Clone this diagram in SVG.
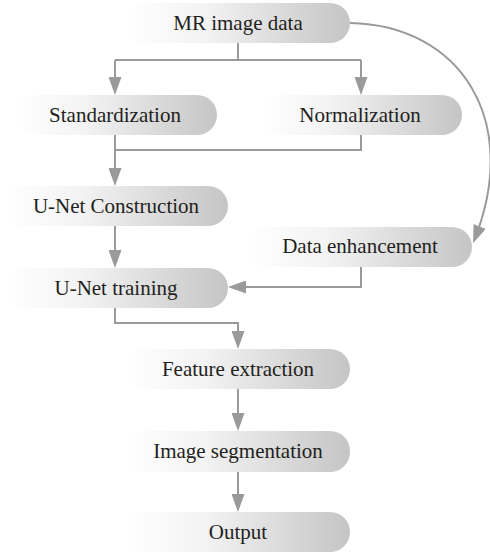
<svg xmlns="http://www.w3.org/2000/svg" width="490" height="552" viewBox="0 0 490 552">
  <defs>
    <linearGradient id="pill" x1="0" y1="0" x2="1" y2="0">
      <stop offset="0" stop-color="#ffffff"/>
      <stop offset="0.35" stop-color="#f3f3f3"/>
      <stop offset="1" stop-color="#c5c5c5"/>
    </linearGradient>
    <marker id="arrow" viewBox="0 0 18 13" refX="14" refY="6.5" markerWidth="18" markerHeight="13" markerUnits="userSpaceOnUse" orient="auto">
      <path d="M0,0 L18,6.5 L0,13 z" fill="#9a9a9a"/>
    </marker>
    <style>
      .box { fill: url(#pill); }
      .label { font-family: "Liberation Serif", "Times New Roman", serif; font-size: 21px; fill: #231f20; text-anchor: middle; }
      .link { fill: none; stroke: #9a9a9a; stroke-width: 2; }
      .arr { marker-end: url(#arrow); }
    </style>
  </defs>

  <!-- connectors -->
  <g id="connectors">
    <path class="link" d="M238,43 V60 M115,60 H361"/>
    <path class="link arr" d="M115,60 V91"/>
    <path class="link arr" d="M361,60 V91"/>
    <path class="link" d="M115,135 V150 H361 V135"/>
    <path class="link arr" d="M115,150 V182"/>
    <path class="link arr" d="M115,226 V264"/>
    <path class="link arr" d="M361,267 V287 H232"/>
    <path class="link arr" d="M115,308 V323 H238 V345"/>
    <path class="link arr" d="M238,389 V427"/>
    <path class="link arr" d="M238,472 V508"/>
    <path class="link arr" d="M350,23 C460,25 522,120 474.5,239.5"/>
  </g>

  <!-- nodes -->
  <g id="nodes">
    <g id="mr-image-data">
      <rect class="box" x="126" y="3" width="224" height="40" rx="20"/>
      <text class="label" x="238" y="30">MR image data</text>
    </g>
    <g id="standardization">
      <rect class="box" x="16" y="95" width="201" height="40" rx="20"/>
      <text class="label" x="115" y="122">Standardization</text>
    </g>
    <g id="normalization">
      <rect class="box" x="260" y="95" width="202" height="40" rx="20"/>
      <text class="label" x="360" y="122">Normalization</text>
    </g>
    <g id="unet-construction">
      <rect class="box" x="4" y="186" width="224" height="40" rx="20"/>
      <text class="label" x="116" y="213">U-Net Construction</text>
    </g>
    <g id="data-enhancement">
      <rect class="box" x="248" y="227" width="224" height="40" rx="20"/>
      <text class="label" x="360" y="253">Data enhancement</text>
    </g>
    <g id="unet-training">
      <rect class="box" x="4" y="268" width="224" height="40" rx="20"/>
      <text class="label" x="116" y="295">U-Net training</text>
    </g>
    <g id="feature-extraction">
      <rect class="box" x="126" y="349" width="224" height="40" rx="20"/>
      <text class="label" x="238" y="376">Feature extraction</text>
    </g>
    <g id="image-segmentation">
      <rect class="box" x="126" y="431" width="224" height="41" rx="20"/>
      <text class="label" x="238" y="458">Image segmentation</text>
    </g>
    <g id="output">
      <rect class="box" x="126" y="512" width="224" height="40" rx="20"/>
      <text class="label" x="238" y="539">Output</text>
    </g>
  </g>
</svg>
